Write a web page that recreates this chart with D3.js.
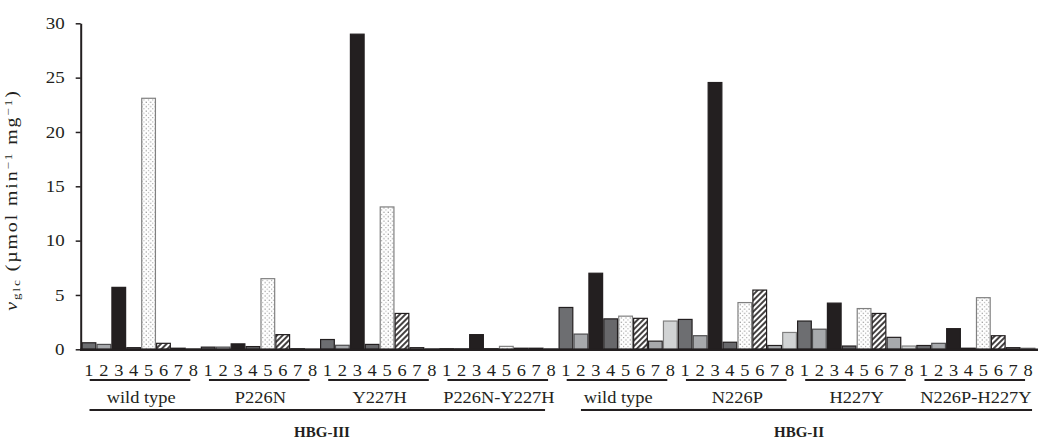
<!DOCTYPE html>
<html>
<head>
<meta charset="utf-8">
<script src="https://cdn.jsdelivr.net/npm/d3@7"></script>
<style>
  body { margin: 0; background: #fff; }
  svg text { font-family: "Liberation Serif", "DejaVu Serif", serif; fill: #231f20; }
</style>
</head>
<body>
<svg width="1039" height="439"></svg>
<script>
// bar numbers inside each variant group
var barLabels = ["1", "2", "3", "4", "5", "6", "7", "8"];
var variants = ["wild type", "P226N", "Y227H", "P226N-Y227H", "wild type", "N226P", "H227Y", "N226P-H227Y"];
var enzymes = ["HBG-III", "HBG-II"];
var yTicks = [0, 5, 10, 15, 20, 25, 30];

// v_glc values
var hbg3Wild   = [0.6, 0.45, 5.7, 0.15, 23.1, 0.55, 0.1, 0.05];
var hbg3P226N  = [0.2, 0.2, 0.5, 0.25, 6.5, 1.35, 0.05, 0.02];
var hbg3Y227H  = [0.9, 0.37, 29.0, 0.45, 13.1, 3.3, 0.15, 0.05];
var hbg3Double = [0.05, 0.05, 1.35, 0.05, 0.27, 0.1, 0.1, 0.05];
var hbg2Wild   = [3.85, 1.4, 7.0, 2.8, 3.05, 2.85, 0.75, 2.6];
var hbg2N226P  = [2.75, 1.25, 24.55, 0.65, 4.3, 5.45, 0.35, 1.55];
var hbg2H227Y  = [2.6, 1.85, 4.25, 0.3, 3.75, 3.3, 1.1, 0.3];
var hbg2Double = [0.35, 0.55, 1.9, 0.1, 4.75, 1.25, 0.15, 0.1];

var groupValues = [hbg3Wild, hbg3P226N, hbg3Y227H, hbg3Double, hbg2Wild, hbg2N226P, hbg2H227Y, hbg2Double];

var data = [];
groupValues.forEach(function(vals, g) {
  vals.forEach(function(v, i) {
    data.push({ id: g * 8 + i, group: g, bar: i, value: v });
  });
});

var serif = "Liberation Serif, DejaVu Serif, serif";
var wide = "scale(1.15,1)";   // the figure's lettering is a bit stretched sideways
var svg = d3.select("svg");
var x = d3.scaleBand().domain(data.map(function(d) { return d.id; })).range([81.5, 1035.5]).padding(0);
var y = d3.scaleLinear().domain([0, 30]).range([349.3, 23.3]);
var bw = x.bandwidth();

var defs = svg.append("defs");
var dots = defs.append("pattern").attr("id", "dots")
    .attr("patternUnits", "userSpaceOnUse").attr("width", 4.4).attr("height", 4.4);
dots.append("rect").attr("width", 4.4).attr("height", 4.4).attr("fill", "#fff");
dots.append("rect").attr("x", 0.6).attr("y", 0.6).attr("width", 0.9).attr("height", 0.9).attr("fill", "#444");
dots.append("rect").attr("x", 2.8).attr("y", 2.8).attr("width", 0.9).attr("height", 0.9).attr("fill", "#777");

var hatch = defs.append("pattern").attr("id", "hatch")
    .attr("patternUnits", "userSpaceOnUse").attr("width", 4).attr("height", 4)
    .attr("patternTransform", "rotate(45)");
hatch.append("rect").attr("width", 4).attr("height", 4).attr("fill", "#fff");
hatch.append("line").attr("x1", 1).attr("y1", 0).attr("x2", 1).attr("y2", 4)
    .attr("stroke", "#231f20").attr("stroke-width", 1.7);

var fills   = ["#6d6e71", "#a7a9ac", "#231f20", "#68686b", "url(#dots)", "url(#hatch)", "#a7a9ac", "#d1d3d4"];
var strokes = ["#231f20", "#4d4d4f", "#231f20", "#231f20", "#808080", "#231f20", "#231f20", "#808080"];

svg.selectAll(".bar")
  .data(data)
  .enter().append("rect")
    .attr("class", "bar")
    .attr("x", function(d) { return x(d.id) + 0.6; })
    .attr("y", function(d) { return y(d.value); })
    .attr("width", bw - 1.2)
    .attr("height", function(d) { return y(0) - y(d.value); })
    .attr("fill", function(d) { return fills[d.bar]; })
    .attr("stroke", function(d) { return strokes[d.bar]; })
    .attr("stroke-width", 1.2);

// y axis
var yAxis = svg.append("g")
    .attr("transform", "translate(80.7,0)")
    .call(d3.axisLeft(y).tickValues(yTicks).tickSize(5).tickPadding(9).tickSizeOuter(0))
    .attr("font-family", serif).attr("font-size", 16.5);
yAxis.select(".domain").attr("stroke", "#231f20").attr("stroke-width", 2);
yAxis.selectAll(".tick line").attr("stroke", "#231f20").attr("stroke-width", 1.5);
yAxis.selectAll(".tick text").attr("transform", wide);

// baseline
svg.append("line")
    .attr("x1", 80).attr("x2", x.range()[1] + 2.5)
    .attr("y1", y(0) + 0.5).attr("y2", y(0) + 0.5)
    .attr("stroke", "#231f20").attr("stroke-width", 2.5);

// bar numbers
var xAxis = svg.append("g")
    .attr("transform", "translate(0,364.3)")
    .call(d3.axisBottom(x).tickSize(0).tickPadding(0)
      .tickFormat(function(d) { return barLabels[d % 8]; }))
    .attr("font-family", serif).attr("font-size", 16);
xAxis.select(".domain").remove();
xAxis.selectAll(".tick text").attr("transform", wide);

// variant underlines and names
variants.forEach(function(name, g) {
  var x0 = x(g * 8) + bw * 0.55, x1 = x(g * 8 + 7) + bw * 0.3;
  svg.append("line").attr("x1", x0).attr("x2", x1).attr("y1", 380).attr("y2", 380)
      .attr("stroke", "#231f20").attr("stroke-width", 2);
  svg.append("text")
      .attr("transform", "translate(" + x(g * 8 + 4) + ",402.5) " + wide)
      .attr("text-anchor", "middle").attr("font-family", serif).attr("font-size", 16).text(name);
});

// enzyme underlines and names
var enzymeLines = [[0.55, -6], [15, 4]];
enzymes.forEach(function(name, e) {
  var first = e * 32, last = e * 32 + 31;
  svg.append("line")
      .attr("x1", x(first) + bw / 2 + enzymeLines[e][0])
      .attr("x2", x(last) + bw / 2 + enzymeLines[e][1])
      .attr("y1", 410).attr("y2", 410)
      .attr("stroke", "#231f20").attr("stroke-width", 2);
  svg.append("text").attr("x", x(first + 16) + 2).attr("y", 437)
      .attr("text-anchor", "middle").attr("font-family", serif)
      .attr("font-size", 15).attr("font-weight", "bold").text(name);
});

// y label
var yl = svg.append("text")
    .attr("transform", "translate(17,200) rotate(-90) scale(1.2,1)")
    .attr("text-anchor", "middle")
    .attr("font-family", serif).attr("font-size", 16.5)
    .attr("letter-spacing", 1.6);
yl.append("tspan").attr("font-style", "italic").text("v");
yl.append("tspan").attr("baseline-shift", "-25%").attr("font-size", 11).text("glc");
yl.append("tspan").text(" (\u00b5mol min");
yl.append("tspan").attr("baseline-shift", "45%").attr("font-size", 11).text("\u22121");
yl.append("tspan").text(" mg");
yl.append("tspan").attr("baseline-shift", "45%").attr("font-size", 11).text("\u22121");
yl.append("tspan").text(")");
</script>
</body>
</html>
